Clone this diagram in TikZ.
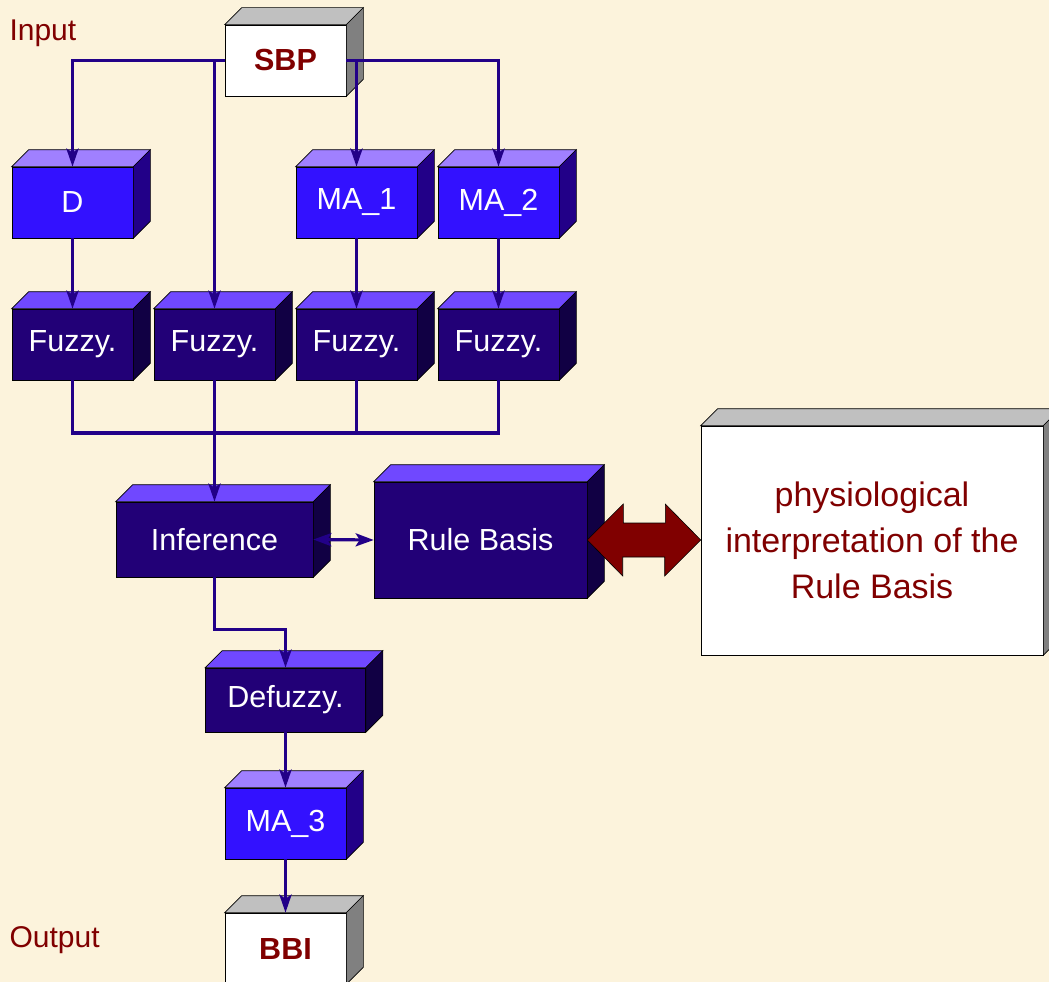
\documentclass[tikz,border=0pt]{standalone}
\usepackage{fontspec}
\setmainfont{Liberation Sans}
\usepackage{xcolor}
\usetikzlibrary{positioning,arrows.meta}
\definecolor{paper}{RGB}{252,243,220}
\definecolor{linkblue}{RGB}{34,0,136}
\definecolor{lightfront}{RGB}{51,17,255}
\definecolor{lighttop}{RGB}{160,128,255}
\definecolor{lightside}{RGB}{34,0,136}
\definecolor{darkfront}{RGB}{34,0,119}
\definecolor{darktop}{RGB}{112,72,255}
\definecolor{darkside}{RGB}{17,0,68}
\definecolor{greytop}{RGB}{192,192,192}
\definecolor{greyside}{RGB}{128,128,128}
\definecolor{wine}{RGB}{128,0,0}
\tikzset{
    block/.style={rectangle, draw=black, line width=0.6pt, inner sep=0pt, minimum width=121pt, minimum height=71pt, font=\fontsize{30.5}{36}\selectfont},
    lightblock/.style={block, fill=lightfront, text=white},
    darkblock/.style={block, fill=darkfront, text=white},
    ioblock/.style={block, fill=white, text=wine, font=\fontsize{30.5}{36}\selectfont\bfseries},
    face/.style={draw=black, line width=0.6pt},
    link/.style={draw=linkblue, line width=3.5pt},
    flow/.style={link, -{Stealth[length=18pt, width=12pt, inset=4pt]}},
    bothways/.style={link, line width=3.2pt, {Stealth[length=18pt, width=13pt, inset=4pt]}-{Stealth[length=18pt, width=13pt, inset=4pt]}},
    label/.style={anchor=west, text=wine, font=\fontsize{30}{36}\selectfont}
}

\begin{document}
\begin{tikzpicture}[x=1pt, y=-1pt]
    \useasboundingbox (0,0) rectangle (1049,982);
    \fill[paper] (0,0) rectangle (1049,982);

    \node[label] (input) at (6,33) {Input};
    \node[label] (output) at (6,940) {Output};

    \node[ioblock] (sbp) at (285.5,60.5) {SBP};
    \node[lightblock] (d) at (72.5,202.5) {D};
    \node[lightblock] (ma1) at (356.5,202.5) {MA\_1};
    \node[lightblock] (ma2) at (498.5,202.5) {MA\_2};
    \node[darkblock] (f1) at (72.5,344.5) {Fuzzy.};
    \node[darkblock] (f2) at (214.5,344.5) {Fuzzy.};
    \node[darkblock] (f3) at (356.5,344.5) {Fuzzy.};
    \node[darkblock] (f4) at (498.5,344.5) {Fuzzy.};
    \node[darkblock, minimum width=197pt, minimum height=75pt] (inf) at (214.5,539.5) {Inference};
    \node[darkblock, minimum width=213pt, minimum height=116pt] (rule) at (480.5,540) {Rule Basis};
    \node[block, fill=white, text=wine, minimum width=342pt, minimum height=229pt, align=center, font=\fontsize{34}{46}\selectfont] (phys) at (872,540.5) {physiological\\interpretation of the\\Rule Basis};
    \node[darkblock, minimum width=160pt, minimum height=64pt] (defz) at (285.5,700) {Defuzzy.};
    \node[lightblock] (ma3) at (285.5,823.5) {MA\_3};
    \node[ioblock] (bbi) at (285.5,948.5) {BBI};

    \foreach \n/\t/\s in {sbp/greytop/greyside, bbi/greytop/greyside, phys/greytop/greyside,
        d/lighttop/lightside, ma1/lighttop/lightside, ma2/lighttop/lightside, ma3/lighttop/lightside,
        f1/darktop/darkside, f2/darktop/darkside, f3/darktop/darkside, f4/darktop/darkside,
        inf/darktop/darkside, rule/darktop/darkside, defz/darktop/darkside}
    {
        \filldraw[face, fill=\t] (\n.north west) -- ++(17pt,17pt) -- ([shift={(17pt,17pt)}]\n.north east) -- (\n.north east) -- cycle;
        \filldraw[face, fill=\s] (\n.north east) -- ++(17pt,17pt) -- ([shift={(17pt,17pt)}]\n.south east) -- (\n.south east) -- cycle;
    }

    \coordinate (bus) at (214.5,433);

    \draw[flow] (sbp.west) -| (d);
    \draw[flow] (sbp.west) -| (f2);
    \draw[flow] (sbp.east) -| (ma1);
    \draw[flow] (sbp.east) -| (ma2);
    \draw[flow] (d) -- (f1);
    \draw[flow] (ma1) -- (f3);
    \draw[flow] (ma2) -- (f4);
    \draw[link] (f1.south) |- (bus) -| (f4.south);
    \draw[link] (f3.south) -- (f3.south |- bus);
    \draw[flow] (f2.south) -- (inf);
    \draw[bothways] (inf.east) -- (rule.west);
    \draw[flow] (inf.south) -- ++(0,52) -| (defz.north);
    \draw[flow] (defz) -- (ma3);
    \draw[flow] (ma3) -- (bbi);

    \filldraw[face, fill=wine] (rule.east) -- ++(36pt,36pt) -- ++(0pt,-19pt) -- ++(42pt,0pt) -- ++(0pt,19pt)
        -- (phys.west |- rule.east) -- ++(-36pt,-36pt) -- ++(0pt,19pt) -- ++(-42pt,0pt) -- ++(0pt,-19pt) -- cycle;
\end{tikzpicture}
\end{document}
